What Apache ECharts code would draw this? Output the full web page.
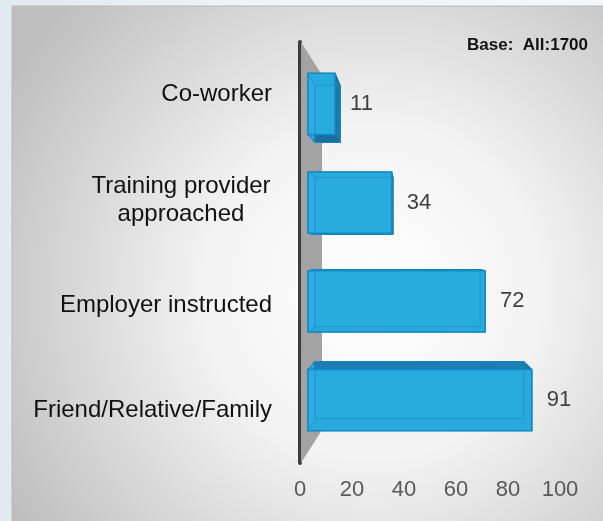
<!DOCTYPE html>
<html>
<head>
<meta charset="utf-8">
<script src="https://cdn.jsdelivr.net/npm/echarts@6/dist/echarts.min.js"></script>
<style>
html,body{margin:0;padding:0;}
body{width:603px;height:521px;background:linear-gradient(to right,#dfeaf1,#eef4f8 40%,#f4f7fa);}
#chart{width:603px;height:521px;}
</style>
</head>
<body>
<div id="chart"></div>
<script>
const categories = ['Co-worker', 'Training provider\napproached', 'Employer instructed', 'Friend/Relative/Family'];
const values = [11, 34, 72, 91];
const axisMin = 0;
const axisMax = 100;
const axisInterval = 20;
const baseNote = 'Base:  All:1700';

const FONT = '"Liberation Sans", Arial, sans-serif';
const chart = echarts.init(document.getElementById('chart'), null, {renderer: 'canvas'});

function renderBox(params, api) {
  const v = api.value(0);
  const ci = api.value(1);
  const s = api.coord([0, ci]);
  const e = api.coord([v, ci]);
  const h = api.size([0, 1])[1] * 0.62;
  const cs = params.coordSys;
  const vpx = cs.x + cs.width * 0.42;
  const vpy = cs.y + cs.height * 0.5;
  const k = 0.067;
  const x0 = s[0], x1 = e[0], y0 = s[1] - h / 2, y1 = s[1] + h / 2;
  const bx = x => x + (vpx - x) * k;
  const by = y => y + (vpy - y) * k;
  const fTL = [x0, y0], fTR = [x1, y0], fBR = [x1, y1], fBL = [x0, y1];
  const bTL = [bx(x0), by(y0)], bTR = [bx(x1), by(y0)], bBR = [bx(x1), by(y1)], bBL = [bx(x0), by(y1)];
  const poly = (pts, fill, stroke) => ({type: 'polygon', shape: {points: pts}, style: {fill: fill, stroke: stroke || '#1179ad', lineWidth: 1}});
  const children = [
    poly([bTL, bTR, bBR, bBL], '#1f8fc4'),
    poly([fTL, fTR, bTR, bTL], '#1c7fb1'),
    poly([fBL, fBR, bBR, bBL], '#1a6f9c'),
    poly([fTR, fBR, bBR, bTR], '#1b79aa'),
    poly([fTL, fBL, bBL, bTL], '#2aa4da'),
    {type: 'rect', shape: {x: x0, y: y0, width: x1 - x0, height: y1 - y0},
      style: {fill: 'rgba(42,176,228,0.88)', stroke: '#1589c2', lineWidth: 1.5}},
    {type: 'polygon', shape: {points: [bTL, bTR, bBR, bBL]},
      style: {fill: 'none', stroke: 'rgba(30,140,200,0.7)', lineWidth: 1}},
    {type: 'line', shape: {x1: x0, y1: y0, x2: bTL[0], y2: bTL[1]}, style: {stroke: 'rgba(30,140,200,0.7)', lineWidth: 1}},
    {type: 'line', shape: {x1: x0, y1: y1, x2: bBL[0], y2: bBL[1]}, style: {stroke: 'rgba(30,140,200,0.7)', lineWidth: 1}},
    {type: 'text', style: {x: x1 + 15, y: s[1], text: String(v), fill: '#404040',
      font: '22px ' + FONT, textAlign: 'left', textVerticalAlign: 'middle'}}
  ];
  return {type: 'group', children: children};
}

const option = {
  backgroundColor: 'transparent',
  animation: false,
  graphic: [
    {type: 'rect', z: -10, shape: {x: 12, y: 6, width: 600, height: 520},
      style: {
        fill: new echarts.graphic.RadialGradient(0.6, 0.55, 0.8, [
          {offset: 0, color: '#ffffff'},
          {offset: 0.4, color: '#f3f3f3'},
          {offset: 1, color: '#bfbfbf'}
        ]),
        stroke: '#b9b9b9', lineWidth: 1
      }},
    {type: 'polygon', z: 1, shape: {points: [[301, 42], [322, 75], [322, 430], [301, 463]]},
      style: {fill: '#a3a3a3'}},
    {type: 'text', z: 5, style: {x: 588, y: 45, text: baseNote, fill: '#111',
      font: 'bold 17px ' + FONT, textAlign: 'right', textVerticalAlign: 'middle'}}
  ],
  grid: [
    {left: 308, width: 246, top: 54.6, height: 394.8},
    {left: 300, width: 260, top: 42, height: 421}
  ],
  xAxis: [
    {gridIndex: 0, type: 'value', min: axisMin, max: axisMax, interval: axisInterval, show: false},
    {gridIndex: 1, type: 'value', min: axisMin, max: axisMax, interval: axisInterval,
      axisLine: {show: false}, axisTick: {show: false}, splitLine: {show: false},
      axisLabel: {margin: 16, color: '#595959', fontSize: 22, fontFamily: FONT, lineHeight: 22}}
  ],
  yAxis: [
    {gridIndex: 0, type: 'category', data: categories, inverse: true, show: false},
    {gridIndex: 1, type: 'category', data: categories, inverse: true,
      axisLine: {show: true, lineStyle: {color: '#3c3c3c', width: 4}},
      axisTick: {show: false}, splitLine: {show: false},
      axisLabel: {
        margin: 28, color: '#111', fontSize: 24, fontFamily: FONT, lineHeight: 28,
        formatter: function (val) {
          if (val.indexOf('\n') >= 0) {
            return val.split('\n').map(function (s) { return '{c|' + s + '}'; }).join('\n');
          }
          return val;
        },
        rich: {c: {width: 182, align: 'center', fontSize: 24, fontFamily: FONT, color: '#111', lineHeight: 28}}
      }}
  ],
  series: [
    {type: 'custom', xAxisIndex: 0, yAxisIndex: 0, z: 3,
      renderItem: renderBox,
      encode: {x: 0, y: 1},
      data: values.map(function (v, i) { return [v, i]; })}
  ]
};
chart.setOption(option);
</script>
</body>
</html>
